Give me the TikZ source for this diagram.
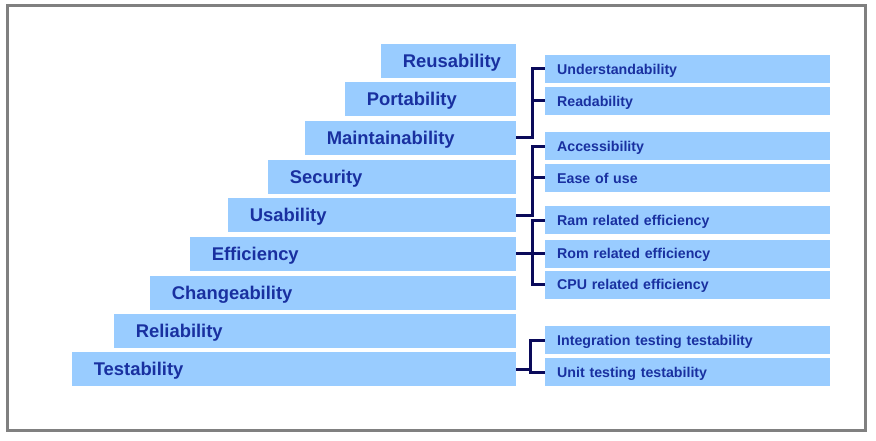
\documentclass[tikz,border=0pt]{standalone}
\usepackage{fontspec}
\setmainfont{Liberation Sans}
\usepackage{tikz}
\usetikzlibrary{positioning}

\definecolor{barblue}{RGB}{153,204,255}
\definecolor{textblue}{RGB}{25,48,160}
\definecolor{linenavy}{RGB}{10,10,90}
\definecolor{framegray}{RGB}{128,128,128}

\begin{document}
\begin{tikzpicture}[x=1pt, y=-1pt,
    bar/.style={fill=barblue, anchor=east, minimum height=34pt, inner xsep=22pt,
        inner ysep=0pt, text depth=0pt, align=left, text=textblue,
        font=\fontsize{18.4}{20}\selectfont\bfseries},
    item/.style={fill=barblue, anchor=west, minimum height=28pt, inner xsep=12pt,
        inner ysep=0pt, text depth=0pt, text width=261pt, align=left, text=textblue,
        font=\fontsize{14.2}{16}\selectfont\bfseries},
    bracket/.style={draw=linenavy, line width=3pt}]
    \useasboundingbox (0,0) rectangle (876,441);

    % Frame
    \draw[framegray, line width=3pt] (7.5,6) rectangle (865,430);

    % Staircase of qualities
    \def\rx{516}
    \node[bar, text width=91pt]  (reuse) at (\rx,61)  {Reusability};
    \node[bar, text width=127pt] (port)  at (\rx,99)  {Portability};
    \node[bar, text width=167pt] (maint) at (\rx,138) {Maintainability};
    \node[bar, text width=204pt] (sec)   at (\rx,177) {Security};
    \node[bar, text width=244pt] (usab)  at (\rx,215) {Usability};
    \node[bar, text width=282pt] (eff)   at (\rx,253.5) {Efficiency};
    \node[bar, text width=322pt] (chg)   at (\rx,293) {Changeability};
    \node[bar, text width=358pt] (rel)   at (\rx,331) {Reliability};
    \node[bar, text width=400pt] (test)  at (\rx,369) {Testability};

    % Sub-qualities
    \def\ix{545}
    \node[item] (under)  at (\ix,69)    {Understandability};
    \node[item] (read)   at (\ix,101)   {Readability};
    \node[item] (access) at (\ix,146.5) {Accessibility};
    \node[item] (ease)   at (\ix,178)   {Ease of use};
    \node[item] (ram)    at (\ix,220)   {Ram related efficiency};
    \node[item] (rom)    at (\ix,253.5) {Rom related efficiency};
    \node[item] (cpu)    at (\ix,284.5) {CPU related efficiency};
    \node[item] (integ)  at (\ix,340)   {Integration testing testability};
    \node[item] (unit)   at (\ix,372)   {Unit testing testability};

    % Brackets
    \def\jog{16}
    \draw[bracket] (maint.east) -- ++(\jog,0) |- (under.west);
    \draw[bracket] (maint.east) ++(\jog,0) |- (read.west);
    \draw[bracket] (usab.east) -- ++(\jog,0) |- (access.west);
    \draw[bracket] (usab.east) ++(\jog,0) |- (ease.west);
    \draw[bracket] (eff.east) -- (rom.west);
    \draw[bracket] (eff.east) ++(\jog,0) |- (ram.west);
    \draw[bracket] (eff.east) ++(\jog,0) |- (cpu.west);
    \draw[bracket] (test.east) -- ++(14,0) |- (integ.west);
    \draw[bracket] (test.east) ++(14,0) |- (unit.west);
\end{tikzpicture}
\end{document}
